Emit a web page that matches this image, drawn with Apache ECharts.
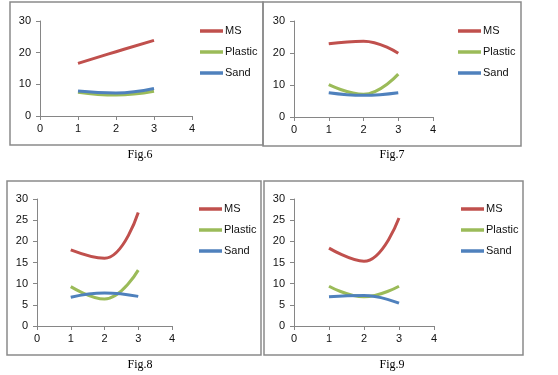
<!DOCTYPE html>
<html>
<head>
<meta charset="utf-8">
<script src="https://cdn.jsdelivr.net/npm/echarts@6/dist/echarts.min.js"></script>
<style>
  html, body { margin: 0; padding: 0; background: #fff; }
  #main { width: 558px; height: 375px; }
</style>
</head>
<body>
<div id="main"></div>
<script>
  // x positions shared by every panel
  var xs = [1, 2, 3];
  var seriesNames = ['MS', 'Plastic', 'Sand'];
  var figTitles = ['Fig.6', 'Fig.7', 'Fig.8', 'Fig.9'];

  // Fig.6
  var fig6_ms = [16.6, 20.3, 23.9];
  var fig6_plastic = [7.5, 6.6, 7.8];
  var fig6_sand = [7.9, 7.3, 8.7];
  // Fig.7
  var fig7_ms = [22.9, 23.7, 19.9];
  var fig7_plastic = [10.1, 7.1, 13.4];
  var fig7_sand = [7.6, 6.8, 7.6];
  // Fig.8
  var fig8_ms = [18.0, 16.0, 26.8];
  var fig8_plastic = [9.3, 6.4, 13.2];
  var fig8_sand = [6.8, 7.8, 7.0];
  // Fig.9
  var fig9_ms = [18.4, 15.3, 25.5];
  var fig9_plastic = [9.4, 6.9, 9.4];
  var fig9_sand = [6.9, 7.2, 5.4];

  var yIntervals = [10, 10, 5, 5];
  var panelData = [
    [fig6_ms, fig6_plastic, fig6_sand],
    [fig7_ms, fig7_plastic, fig7_sand],
    [fig8_ms, fig8_plastic, fig8_sand],
    [fig9_ms, fig9_plastic, fig9_sand]
  ];

  var colors = ['#C0504D', '#9BBB59', '#4F81BD'];
  var axisColor = '#868686';
  var labelFont = 'Liberation Sans';

  var grids = [
    { left: 40, top: 21, width: 152, height: 95 },
    { left: 294, top: 21, width: 139, height: 96 },
    { left: 37, top: 199, width: 135, height: 127 },
    { left: 294, top: 199, width: 140, height: 127 }
  ];
  var legendPos = [
    { left: 195, top: 19 },
    { left: 453, top: 19 },
    { left: 194, top: 197 },
    { left: 456, top: 197 }
  ];
  var boxes = [
    { x: 10, y: 2, w: 253, h: 143 },
    { x: 263, y: 2, w: 258, h: 144 },
    { x: 7, y: 181, w: 254, h: 174 },
    { x: 264, y: 181, w: 259, h: 174 }
  ];
  var captions = [
    { x: 140, y: 155 },
    { x: 392, y: 155 },
    { x: 140, y: 365 },
    { x: 392, y: 365 }
  ];

  var xAxes = [], yAxes = [], series = [], legends = [], graphics = [];

  for (var p = 0; p < 4; p++) {
    xAxes.push({
      type: 'value', gridIndex: p, min: 0, max: 4, interval: 1,
      axisLine: { show: true, onZero: false, lineStyle: { color: axisColor } },
      axisTick: { show: true, length: 4, lineStyle: { color: axisColor } },
      axisLabel: { color: '#111', fontSize: 11, fontFamily: labelFont, margin: 7 },
      splitLine: { show: false }
    });
    yAxes.push({
      type: 'value', gridIndex: p, min: 0, max: 30, interval: yIntervals[p],
      axisLine: { show: true, lineStyle: { color: axisColor } },
      axisTick: { show: true, length: 4, lineStyle: { color: axisColor } },
      axisLabel: { color: '#111', fontSize: 11, fontFamily: labelFont, margin: 9 },
      splitLine: { show: false }
    });
    for (var s = 0; s < 3; s++) {
      var vals = panelData[p][s];
      series.push({
        name: seriesNames[s],
        type: 'line',
        xAxisIndex: p, yAxisIndex: p,
        smooth: 0.45,
        showSymbol: false,
        symbol: 'none',
        color: colors[s],
        lineStyle: { width: 3, color: colors[s] },
        data: xs.map(function (x, i) { return [x, vals[i]]; })
      });
    }
    legends.push({
      data: seriesNames,
      orient: 'vertical',
      left: legendPos[p].left, top: legendPos[p].top,
      icon: 'rect', itemWidth: 23, itemHeight: 3.5, itemGap: 7,
      selectedMode: false,
      textStyle: { color: '#111', fontSize: 11, fontFamily: labelFont, lineHeight: 14, padding: [0, 0, 0, -3] }
    });
    graphics.push({
      type: 'rect', silent: true, z: -1,
      shape: { x: boxes[p].x, y: boxes[p].y, width: boxes[p].w, height: boxes[p].h },
      style: { fill: 'none', stroke: '#8a8a8a', lineWidth: 1.5 }
    });
    graphics.push({
      type: 'text', silent: true,
      x: captions[p].x, y: captions[p].y,
      style: {
        text: figTitles[p], fill: '#000', font: '12px "Liberation Serif"',
        textAlign: 'center', textVerticalAlign: 'middle'
      }
    });
  }

  var chart = echarts.init(document.getElementById('main'));
  chart.setOption({
    animation: false,
    backgroundColor: '#fff',
    grid: grids,
    xAxis: xAxes,
    yAxis: yAxes,
    legend: legends,
    series: series,
    graphic: graphics
  });
</script>
</body>
</html>
